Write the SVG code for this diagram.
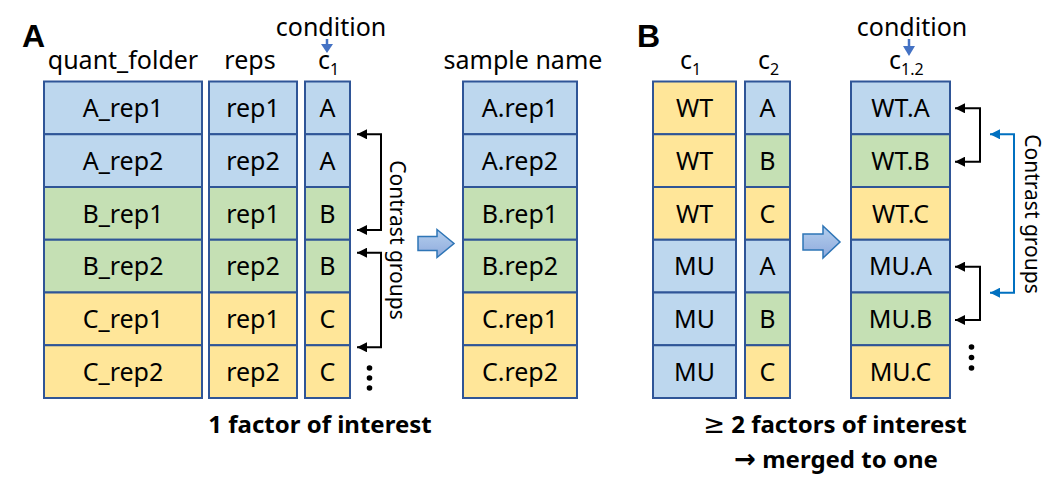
<svg xmlns="http://www.w3.org/2000/svg" width="1057" height="496" viewBox="0 0 1057 496">
<style>
.t{font-family:"Noto Sans","Open Sans","Liberation Sans",sans-serif;font-size:25px;fill:#000}
.c{text-anchor:middle}
.sub{font-size:16px}
.b{font-weight:bold;font-size:24px}
.sym{font-family:"DejaVu Sans",sans-serif}
.lbl{font-family:"Liberation Sans",Arial,sans-serif;font-weight:bold;font-size:32px;fill:#000}
.cell{stroke:#2F5597;stroke-width:2}
.bl{fill:#BDD7EE}
.gr{fill:#C5E0B4}
.ye{fill:#FFE699}
.br{fill:none;stroke:#000;stroke-width:2}
.brb{fill:none;stroke:#0070C0;stroke-width:2}
.big{fill:url(#ga);stroke:#2E75B6;stroke-width:1.5}
.ct{font-family:"Noto Sans","Open Sans",sans-serif;font-size:21px;fill:#000}
</style>
<defs>
<marker id="ah" viewBox="0 0 10 10" refX="10" refY="5" markerUnits="userSpaceOnUse" markerWidth="11" markerHeight="10" orient="auto-start-reverse"><path d="M0,0 L10,5 L0,10 z" fill="#000"/></marker>
<marker id="ahb" viewBox="0 0 10 10" refX="10" refY="5" markerUnits="userSpaceOnUse" markerWidth="11" markerHeight="10" orient="auto-start-reverse"><path d="M0,0 L10,5 L0,10 z" fill="#0070C0"/></marker>
<linearGradient id="ga" x1="0" y1="0" x2="0" y2="1"><stop offset="0" stop-color="#B4CFEE"/><stop offset="1" stop-color="#8FAADC"/></linearGradient>
</defs>

<!-- Panel A -->
<text class="lbl" x="22" y="47">A</text>
<text class="t" x="331" y="36" text-anchor="middle">condition</text>
<path d="M327,39 V46" stroke="#4472C4" stroke-width="2.5"/>
<path d="M321,44 L333,44 L327,53 z" fill="#4472C4"/>
<text class="t c" x="123" y="69">quant_folder</text>
<text class="t c" x="250" y="69">reps</text>
<text class="t" x="318" y="69">c<tspan class="sub" dy="6">1</tspan></text>
<text class="t c" x="523" y="69">sample name</text>

<g id="A-quant_folder">
<rect class="cell bl" x="44" y="81.5" width="158" height="52.75"/>
<rect class="cell bl" x="44" y="134.25" width="158" height="52.75"/>
<rect class="cell gr" x="44" y="187" width="158" height="52.75"/>
<rect class="cell gr" x="44" y="239.75" width="158" height="52.75"/>
<rect class="cell ye" x="44" y="292.5" width="158" height="52.75"/>
<rect class="cell ye" x="44" y="345.25" width="158" height="52.75"/>
<text class="t c" x="123" y="117">A_rep1</text>
<text class="t c" x="123" y="170">A_rep2</text>
<text class="t c" x="123" y="223">B_rep1</text>
<text class="t c" x="123" y="275">B_rep2</text>
<text class="t c" x="123" y="328">C_rep1</text>
<text class="t c" x="123" y="381">C_rep2</text>
</g>
<g id="A-reps">
<rect class="cell bl" x="209" y="81.5" width="88" height="52.75"/>
<rect class="cell bl" x="209" y="134.25" width="88" height="52.75"/>
<rect class="cell gr" x="209" y="187" width="88" height="52.75"/>
<rect class="cell gr" x="209" y="239.75" width="88" height="52.75"/>
<rect class="cell ye" x="209" y="292.5" width="88" height="52.75"/>
<rect class="cell ye" x="209" y="345.25" width="88" height="52.75"/>
<text class="t c" x="253" y="117">rep1</text>
<text class="t c" x="253" y="170">rep2</text>
<text class="t c" x="253" y="223">rep1</text>
<text class="t c" x="253" y="275">rep2</text>
<text class="t c" x="253" y="328">rep1</text>
<text class="t c" x="253" y="381">rep2</text>
</g>
<g id="A-c1">
<rect class="cell bl" x="305" y="81.5" width="45" height="52.75"/>
<rect class="cell bl" x="305" y="134.25" width="45" height="52.75"/>
<rect class="cell gr" x="305" y="187" width="45" height="52.75"/>
<rect class="cell gr" x="305" y="239.75" width="45" height="52.75"/>
<rect class="cell ye" x="305" y="292.5" width="45" height="52.75"/>
<rect class="cell ye" x="305" y="345.25" width="45" height="52.75"/>
<text class="t c" x="327.5" y="117">A</text>
<text class="t c" x="327.5" y="170">A</text>
<text class="t c" x="327.5" y="223">B</text>
<text class="t c" x="327.5" y="275">B</text>
<text class="t c" x="327.5" y="328">C</text>
<text class="t c" x="327.5" y="381">C</text>
</g>
<g id="A-sample-name">
<rect class="cell bl" x="463" y="81.5" width="114" height="52.75"/>
<rect class="cell bl" x="463" y="134.25" width="114" height="52.75"/>
<rect class="cell gr" x="463" y="187" width="114" height="52.75"/>
<rect class="cell gr" x="463" y="239.75" width="114" height="52.75"/>
<rect class="cell ye" x="463" y="292.5" width="114" height="52.75"/>
<rect class="cell ye" x="463" y="345.25" width="114" height="52.75"/>
<text class="t c" x="520" y="117">A.rep1</text>
<text class="t c" x="520" y="170">A.rep2</text>
<text class="t c" x="520" y="223">B.rep1</text>
<text class="t c" x="520" y="275">B.rep2</text>
<text class="t c" x="520" y="328">C.rep1</text>
<text class="t c" x="520" y="381">C.rep2</text>
</g>
<g id="A-arrow">
<path class="big" d="M418,236.5 H437 V229.5 L454,243.5 L437,257.5 V250.5 H418 z"/>
</g>
<text class="ct" transform="translate(397,240) rotate(90)" text-anchor="middle" y="7.5">Contrast groups</text>
<g id="A-dots" fill="#000">
<circle cx="369.5" cy="368" r="2.8"/><circle cx="369.5" cy="378" r="2.8"/><circle cx="369.5" cy="388" r="2.8"/>
</g>
<text class="t c b" x="320" y="433">1 factor of interest</text>

<!-- Panel B -->
<text class="lbl" x="637" y="47">B</text>
<text class="t" x="912" y="36" text-anchor="middle">condition</text>
<path d="M909,39 V48" stroke="#4472C4" stroke-width="2.5"/>
<path d="M903,46 L915,46 L909,56 z" fill="#4472C4"/>
<text class="t" x="680" y="69">c<tspan class="sub" dy="6">1</tspan></text>
<text class="t" x="758" y="69">c<tspan class="sub" dy="6">2</tspan></text>
<text class="t" x="889" y="69">c<tspan class="sub" dy="6">1.2</tspan></text>

<g id="B-c1">
<rect class="cell ye" x="653" y="81.5" width="83" height="52.75"/>
<rect class="cell ye" x="653" y="134.25" width="83" height="52.75"/>
<rect class="cell ye" x="653" y="187" width="83" height="52.75"/>
<rect class="cell bl" x="653" y="239.75" width="83" height="52.75"/>
<rect class="cell bl" x="653" y="292.5" width="83" height="52.75"/>
<rect class="cell bl" x="653" y="345.25" width="83" height="52.75"/>
<text class="t c" x="694.5" y="117">WT</text>
<text class="t c" x="694.5" y="170">WT</text>
<text class="t c" x="694.5" y="223">WT</text>
<text class="t c" x="694.5" y="275">MU</text>
<text class="t c" x="694.5" y="328">MU</text>
<text class="t c" x="694.5" y="381">MU</text>
</g>
<g id="B-c2">
<rect class="cell bl" x="745" y="81.5" width="45" height="52.75"/>
<rect class="cell gr" x="745" y="134.25" width="45" height="52.75"/>
<rect class="cell ye" x="745" y="187" width="45" height="52.75"/>
<rect class="cell bl" x="745" y="239.75" width="45" height="52.75"/>
<rect class="cell gr" x="745" y="292.5" width="45" height="52.75"/>
<rect class="cell ye" x="745" y="345.25" width="45" height="52.75"/>
<text class="t c" x="767.5" y="117">A</text>
<text class="t c" x="767.5" y="170">B</text>
<text class="t c" x="767.5" y="223">C</text>
<text class="t c" x="767.5" y="275">A</text>
<text class="t c" x="767.5" y="328">B</text>
<text class="t c" x="767.5" y="381">C</text>
</g>
<g id="B-c12">
<rect class="cell bl" x="851" y="81.5" width="99" height="52.75"/>
<rect class="cell gr" x="851" y="134.25" width="99" height="52.75"/>
<rect class="cell ye" x="851" y="187" width="99" height="52.75"/>
<rect class="cell bl" x="851" y="239.75" width="99" height="52.75"/>
<rect class="cell gr" x="851" y="292.5" width="99" height="52.75"/>
<rect class="cell ye" x="851" y="345.25" width="99" height="52.75"/>
<text class="t c" x="900.5" y="117">WT.A</text>
<text class="t c" x="900.5" y="170">WT.B</text>
<text class="t c" x="900.5" y="223">WT.C</text>
<text class="t c" x="900.5" y="275">MU.A</text>
<text class="t c" x="900.5" y="328">MU.B</text>
<text class="t c" x="900.5" y="381">MU.C</text>
</g>
<g id="B-arrow">
<path class="big" d="M803,234 H823 V226 L840,242 L823,258 V250 H803 z"/>
</g>
<text class="ct" transform="translate(1032,214) rotate(90)" text-anchor="middle" y="7.5">Contrast groups</text>
<g id="B-dots" fill="#000">
<circle cx="971.5" cy="347" r="2.8"/><circle cx="971.5" cy="357.5" r="2.8"/><circle cx="971.5" cy="368" r="2.8"/>
</g>
<text class="t c b" x="835" y="433"><tspan class="sym" font-weight="normal" font-size="26">≥</tspan> 2 factors of interest</text>
<text class="t c b" x="836" y="468"><tspan class="sym" font-size="26">→</tspan> merged to one</text>

<g id="connectors">
<path class="br" d="M357,134.3 H381 V230 H357" marker-start="url(#ah)" marker-end="url(#ah)"/>
<path class="br" d="M357,252.7 H381 V347.3 H357" marker-start="url(#ah)" marker-end="url(#ah)"/>
<path class="br" d="M955,108.3 H980 V161.7 H955" marker-start="url(#ah)" marker-end="url(#ah)"/>
<path class="br" d="M955,266.7 H980 V320 H955" marker-start="url(#ah)" marker-end="url(#ah)"/>
<path class="brb" d="M990,134.3 H1014 V292.7 H990" marker-start="url(#ahb)" marker-end="url(#ahb)"/>
</g>
</svg>
